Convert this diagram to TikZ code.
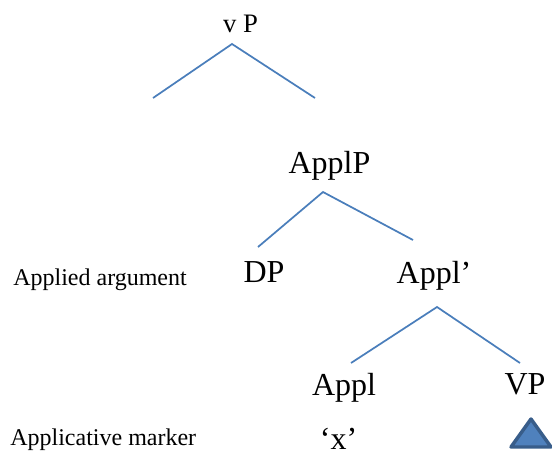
\documentclass[tikz,border=0pt]{standalone}
\usepackage{fontspec}
\setmainfont{Liberation Serif}
\usepackage{tikz}

\definecolor{branchblue}{HTML}{4A7EBB}
\definecolor{trifill}{HTML}{4F81BD}
\definecolor{triline}{HTML}{385D8A}

\tikzset{
	cat/.style={anchor=base, inner sep=0pt, font=\fontsize{24}{28}\selectfont},
	gloss/.style={anchor=base west, inner sep=0pt, font=\fontsize{18}{22}\selectfont},
	branch/.style={branchblue, line width=1.3pt}
}

\begin{document}
\begin{tikzpicture}[x=0.75pt, y=-0.75pt]
				\useasboundingbox (0,0) rectangle (552,457);
				% Labels
				\node[cat, font=\fontsize{20}{24}\selectfont] (vP) at (240.5,32) {v P};
				\node[cat] (ApplP) at (329.5,173) {ApplP};
				\node[cat] (DP) at (264,282) {DP};
				\node[cat] (Applbar) at (434,283) {Appl’};
				\node[cat] (Appl) at (344,395) {Appl};
				\node[cat] (VP) at (525,394) {VP};
				\node[cat] (x) at (338.5,449) {‘x’};
				\node[gloss] (argument) at (13,285) {Applied argument};
				\node[gloss] (marker) at (10,445) {Applicative marker};
				% Branch points
				\coordinate (vPtop) at (232,44);
				\coordinate (vPleft) at (153,98);
				\coordinate (vPright) at (315,98);
				\coordinate (ApplPtop) at (323,192);
				\coordinate (ApplPleft) at (258,247);
				\coordinate (ApplPright) at (413,240);
				\coordinate (Applbartop) at (437,307);
				\coordinate (Applbarleft) at (351,363);
				\coordinate (Applbarright) at (520,363);
				% Branches
				\foreach \n in {vP,ApplP,Applbar}
					\draw[branch] (\n left) -- (\n top) -- (\n right);
				% Triangle under VP
				\coordinate (tritop) at (531,419);
				\coordinate (trileft) at (511,447);
				\coordinate (triright) at (551,447);
				\draw[triline, fill=trifill, line width=2.6pt, line join=round] (tritop) -- (trileft) -- (triright) -- cycle;
			\end{tikzpicture}
\end{document}
